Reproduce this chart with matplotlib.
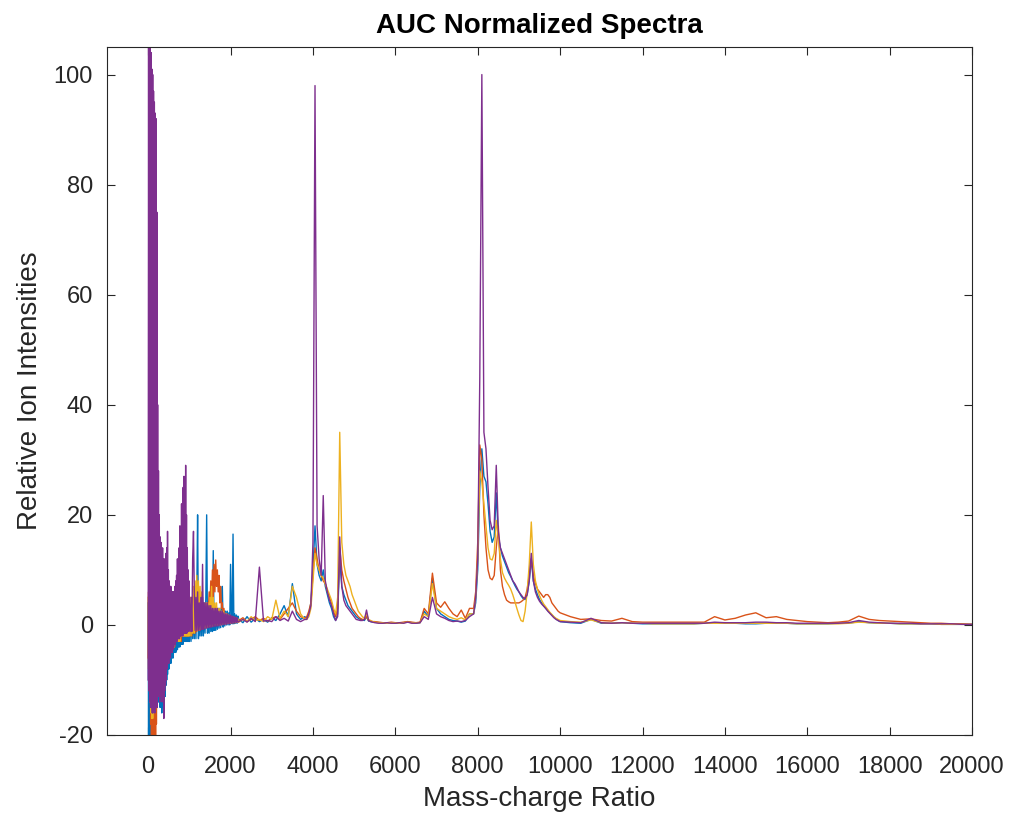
import matplotlib
matplotlib.use('Agg')
import matplotlib.pyplot as plt
import numpy as np

# m/z sampling grid, finer where the spectra are noisy
mz = np.concatenate([
    np.arange(0, 1000, 10),
    np.arange(1000, 2200, 20),
    np.arange(2200, 3900, 100),
    np.arange(3850, 5500, 50),
    np.arange(5500, 7900, 100),
    np.arange(7900, 10001, 50),
    np.arange(10250, 20001, 250),
])

blue = [
    # 0-990
    4, -20, 8, -24, 9, -25, 10, -22, 8, -21,
    10, -19, 12, -18, 11, -16, 10, -15, 9, -15,
    8, -14, 8, -13, 7, -14, 7, -14, 6, -15,
    6, -15, 6, -16, 6, -15, 5, -15, 5, -14,
    5, -13, 5, -11, 5, -10, 5, -9, 4, -8,
    4, -8, 4, -7, 4, -7, 4, -6, 4, -6,
    4, -6, 4, -5, 4, -5, 4, -5, 4, -4.5,
    4, -4.5, 4, -4, 4, -4, 4, -4, 4, -3.5,
    4, -3.5, 4, -3.5, 4, -3.5, 4, -3, 4, -3,
    4, -3, 4, -3, 4, -3, 4, -3, 4, -3,
    # 1000-2180
    -3, 4, -3, 4, -2.5, 4, -2.5, 5, -2.5, 5,
    20, -2.5, 4, -2, 4, -2, 5, -2, 4, -1.5,
    5, 20, -1.5, 4, -1.5, 4, -1.2, 4, -1.2, 13.5,
    -1, 3, -1, 3, -0.8, 3, -0.6, 3, -0.5, 3,
    7, -0.4, 2.5, -0.2, 2.5, 0, 2.5, 0, 2.2, 0,
    11, 2, 0.2, 16.5, 0.2, 2, 0.3, 1.8, 0.3, 1.6,
    # 2200-3800
    1, 0.4, 1.5, 0.5, 1.2, 0.6, 1, 0.5, 1.3, 0.8, 2, 3.5, 1.5, 7.5, 2, 1, 1.5,
    # 3850-5450
    1.2, 2, 4, 10, 18, 11, 9, 8, 10, 7, 5.5, 4, 3, 1.5, 0.8, 2, 12, 7, 5.5, 4.5,
    3.5, 3, 2.5, 2, 1.5, 1.2, 1, 0.9, 0.8, 1.5, 0.7, 0.6, 0.5,
    # 5500-7800
    0.5, 0.4, 0.3, 0.3, 0.4, 0.3, 0.3, 0.4, 0.6, 0.4, 0.3, 0.4, 2.5, 1.5, 8.5, 3, 2, 1.5, 1, 0.8,
    0.7, 0.5, 0.7, 2,
    # 7900-10000
    2, 4, 10, 25, 32, 27, 26, 22, 17, 15, 16, 24, 16, 14, 12.5, 11.5, 10.5, 9.5, 8.8, 8,
    7.2, 6.5, 6, 5.3, 4.8, 4.6, 5.5, 8, 12, 8, 6.5, 5.5, 4.6, 4, 3.5, 3, 2.6, 2.2, 1.8, 1.4,
    1.1, 0.8, 0.6,
    # 10250-20000
    0.4, 0.3, 1.0, 0.3, 0.3, 0.4, 0.3, 0.2, 0.2, 0.2, 0.2, 0.2, 0.2, 0.3, 0.4, 0.3, 0.3, 0.2, 0.2, 0.3,
    0.3, 0.3, 0.2, 0.2, 0.2, 0.2, 0.3, 0.3, 0.6, 0.4, 0.3, 0.3, 0.2, 0.2, 0.2, 0.2, 0.1, 0.1, 0.1, 0.1,
]

orange = [
    -6, 6, -9, 8, -14, 9, -18, 10, -21, 10,
    -22, 9, -23, 9, -22, 8, -21, 8, -20, 8,
    -18, 7, -15, 7, -12, 7, -11, 6, -10, 6,
    -10, 6, -10, 6, -10, 6, -9, 6, -9, 5,
    -9, 5, -8, 5, -7, 5, -6, 5, -6, 5,
    -5, 5, -5, 5, -5, 5, -4, 5, -4, 5,
    -4, 5, -4, 5, -4, 5, -3, 5, -3, 5,
    -3, 5, -3, 5, -3, 5, -3, 6, -3, 6,
    -3, 6, -2, 6, -2, 6, -2, 6, -2, 6,
    -2, 7, -2, 6, -2, 6, -2, 6, -2, 6,
    5, -2, 5, -2, 4, -1.5, 4, -1.5, 4, -1.2,
    4, -1, 4, -1, 4, -0.8, 3.5, -0.6, 3.5, -0.5,
    3.5, -0.5, 4, 2, 6, 3, 8, 4, 10, 5,
    11, 6, 11.8, 7, 10, 6, 9, 4, 7, 3,
    4, 1, 3, 0.5, 2, 0.3, 2, 0.3, 1.8, 0.3,
    1.6, 0.4, 1.5, 0.4, 1.4, 0.4, 1.3, 0.5, 1.2, 0.5,
    0.8, 1.3, 0.6, 1, 1.5, 0.8, 1.2, 0.7, 1.2, 1.5, 1, 2, 3, 4, 2.5, 1.5, 1.2,
    1.5, 2.5, 4, 9, 14, 12, 10, 9, 8, 7.5, 6, 5, 4, 2.5, 1.5, 3, 14, 10, 8, 6.5,
    5, 4, 3, 2.5, 2, 1.5, 1.2, 1, 1, 1.5, 0.8, 0.7, 0.6,
    0.6, 0.5, 0.4, 0.4, 0.5, 0.4, 0.4, 0.5, 0.6, 0.5, 0.4, 0.5, 3, 2, 9.4, 4, 3.2, 4.2, 3, 2,
    1.5, 2.7, 1.2, 3,
    3, 6, 15, 32.7, 30, 20, 14, 10, 8.5, 8.2, 9, 14, 18, 10, 7, 5.5, 4.5, 4.2, 4, 4,
    4, 4, 4, 4.2, 4.5, 5, 6.5, 9, 12, 9, 7.5, 6.5, 6, 5.5, 5, 5.5, 5.5, 5, 4, 3.5,
    3, 2.5, 2.2,
    1.5, 1.0, 1.1, 0.8, 0.7, 1.2, 0.6, 0.5, 0.5, 0.5, 0.5, 0.5, 0.5, 0.5, 1.5, 0.9, 1.2, 1.8, 2.2, 1.3,
    1.5, 1.0, 0.8, 0.6, 0.5, 0.4, 0.5, 0.7, 1.6, 1.0, 0.8, 0.7, 0.6, 0.5, 0.4, 0.3, 0.3, 0.2, 0.2, 0.1,
]

yellow = [
    5, -8, 7, -11, 8, -14, 9, -16, 9, -17,
    10, -17, 10, -16, 9, -15, 9, -13, 8, -12,
    8, -11, 8, -10, 7, -10, 7, -9, 7, -9,
    7, -9, 6, -9, 6, -8, 6, -8, 6, -8,
    6, -8, 6, -7, 5, -7, 5, -6, 5, -6,
    5, -5, 5, -5, 5, -5, 5, -4, 5, -4,
    5, -4, 5, -4, 5, -3, 5, -3, 5, -3,
    5, -3, 5, -3, 5, -3, 5, -3, 5, -2,
    6, -2, 6, -2, 6, -2, 6, -2, 6, -2,
    6, -2, 6, -2, 6, -2, 6, -2, 6, -2,
    -2, 5, -2, 5, -1.5, 7, -1.5, 8, -1, 9,
    -1, 8, -1, 7, -0.8, 6, -0.6, 4, -0.5, 4,
    -0.5, 4, -0.4, 4, -0.3, 5, -0.2, 7, -0.2, 5,
    0, 4, 0, 4, 0, 3, 0, 3, 0, 2.5,
    0.1, 2.5, 0.2, 2.2, 0.2, 2, 0.3, 1.8, 0.3, 1.6,
    0.3, 1.5, 0.4, 1.4, 0.4, 1.3, 0.4, 1.2, 0.5, 1.1,
    0.5, 1, 0.6, 1.5, 0.8, 1, 0.6, 1.5, 1, 4.5, 1.2, 2.5, 1.5, 7, 5, 2, 1,
    1, 1.5, 3, 8, 13, 11, 10, 9, 8.5, 7.5, 6.5, 5.5, 4.5, 3, 2, 5, 35, 15, 11, 9,
    8, 7, 5.5, 4.5, 3.5, 2.5, 2, 1.5, 1.2, 2, 1, 0.8, 0.6,
    0.5, 0.4, 0.4, 0.3, 0.4, 0.4, 0.3, 0.4, 0.5, 0.4, 0.4, 0.4, 2, 1.5, 7.5, 3, 2.5, 2, 1.5, 1.2,
    1, 1.3, 0.9, 2,
    2, 5, 12, 28, 26, 22, 18, 14, 12, 11.8, 13, 19, 16, 12, 9.5, 8.5, 7.8, 7.2, 6.5, 5.5,
    4.3, 3, 1.8, 0.8, 0.6, 2.5, 6, 11, 18.7, 11, 8, 6.5, 5.3, 4.5, 3.8, 3.3, 2.8, 2.3, 1.9, 1.5,
    1.2, 1, 0.8,
    0.6, 0.5, 0.9, 0.4, 0.3, 0.4, 0.3, 0.3, 0.2, 0.2, 0.2, 0.2, 0.2, 0.3, 0.3, 0.3, 0.3, 0.3, 0.3, 0.3,
    0.3, 0.3, 0.2, 0.2, 0.2, 0.2, 0.2, 0.3, 0.5, 0.4, 0.3, 0.3, 0.2, 0.2, 0.2, 0.2, 0.1, 0.1, 0.1, 0.1,
]

purple = [
    -10, 105, -12, 110, -14, 108, -15, 104, -15, 101,
    -16, 100, -16, 97, -15, 95, -16, 93, -15, 92,
    -14, 75, -15, 40, -13, 28, -12, 20, -14, 16,
    -12, 15, -13, 13, -14, 14, -12, 12, -17, 12,
    -12, 11, -11, 13, -10, 14, -8, 17, -7, 10,
    -7, 8, -6, 7, -6, 7, -5, 6, -5, 6,
    -4.5, 6, -4, 6, -3.5, 7, -3.5, 8, -3, 9,
    -3, 12, -2.5, 10, -2.5, 14, -2.5, 18, -2, 17,
    -2, 22, -2, 20, -2, 25, -1.5, 27, -1.5, 24,
    -1.5, 29, -1.5, 20, -1.5, 14, -1.2, 10, -1.2, 8,
    4, -1.2, 5, -1.2, 12, 17, 6, -1, 5, -1,
    6, -1, 4, -1, 5, -0.8, 11, -0.8, 4, -0.7,
    4, -0.6, 4, -0.5, 3.5, -0.5, 3.5, -0.4, 3, -0.3,
    3, -0.3, 3, -0.2, 3, -0.2, 2.5, -0.1, 2.5, 0,
    2.5, 0, 2.2, 0.1, 2, 0.1, 2, 0.2, 1.8, 0.2,
    1.8, 0.3, 1.6, 0.3, 1.5, 0.4, 1.4, 0.4, 1.3, 0.5,
    0.6, 1, 0.5, 1.2, 0.6, 10.5, 0.7, 0.8, 0.6, 1.5, 0.8, 1.2, 0.7, 2.5, 1, 0.6, 1,
    1, 2, 3.5, 15, 98, 18, 12, 9, 23.5, 8, 6, 4.5, 3.5, 2, 0.8, 1.5, 16, 7, 4.5, 3.5,
    3, 2.5, 2, 1.5, 1, 0.9, 0.8, 0.8, 1, 2.7, 0.8, 0.6, 0.5,
    0.4, 0.3, 0.3, 0.4, 0.3, 0.3, 0.4, 0.3, 0.5, 0.3, 0.3, 0.4, 1.5, 1, 5, 2, 1.5, 1.2, 0.8, 0.6,
    0.7, 0.6, 0.8, 1.5,
    2, 5, 12, 45, 100, 35, 32, 25, 19, 17.3, 18, 29, 17, 14, 13, 12, 11, 10, 9, 8,
    7.5, 6.8, 6, 5.5, 5, 4.8, 5.5, 8, 13, 8, 6, 5, 4.3, 3.8, 3.4, 3, 2.5, 2.1, 1.7, 1.3,
    1, 0.8, 0.6,
    0.5, 0.4, 1.2, 0.4, 0.3, 0.4, 0.3, 0.3, 0.3, 0.3, 0.3, 0.3, 0.3, 0.3, 0.5, 0.4, 0.4, 0.4, 0.5, 0.5,
    0.4, 0.4, 0.3, 0.3, 0.3, 0.3, 0.3, 0.4, 0.8, 0.5, 0.4, 0.3, 0.3, 0.3, 0.2, 0.2, 0.2, 0.2, 0.1, 0.1,
]

xticks = np.arange(0, 20001, 2000)
yticks = np.arange(-20, 101, 20)

plt.rcParams['font.family'] = ['Liberation Sans', 'DejaVu Sans']
plt.rcParams['axes.unicode_minus'] = False

fig = plt.figure(figsize=(10.13, 8.17), dpi=100)
ax = fig.add_axes([0.1056, 0.1004, 0.854, 0.842])

for ys, c in [(blue, '#0072BD'), (orange, '#D95319'), (yellow, '#EDB120'), (purple, '#7E2F8E')]:
    ax.plot(mz, ys, color=c, lw=1.0)

ax.set_xlim(-1000, 20000)
ax.set_ylim(-20, 105)
ax.set_xticks(xticks)
ax.set_yticks(yticks)

dark = '#262626'
ax.tick_params(direction='in', top=True, right=True, length=6, width=0.8,
               labelsize=17, colors=dark)
ax.tick_params(axis='x', pad=15)
ax.tick_params(axis='y', pad=10)
for s in ax.spines.values():
    s.set_color(dark)
    s.set_linewidth(0.8)

ax.set_xlabel('Mass-charge Ratio', fontsize=20, color=dark, labelpad=6)
ax.set_ylabel('Relative Ion Intensities', fontsize=20, color=dark, labelpad=8)
ax.set_title('AUC Normalized Spectra', fontsize=20, fontweight='bold', color='black', pad=10)

fig.savefig('out.png', dpi=100)
